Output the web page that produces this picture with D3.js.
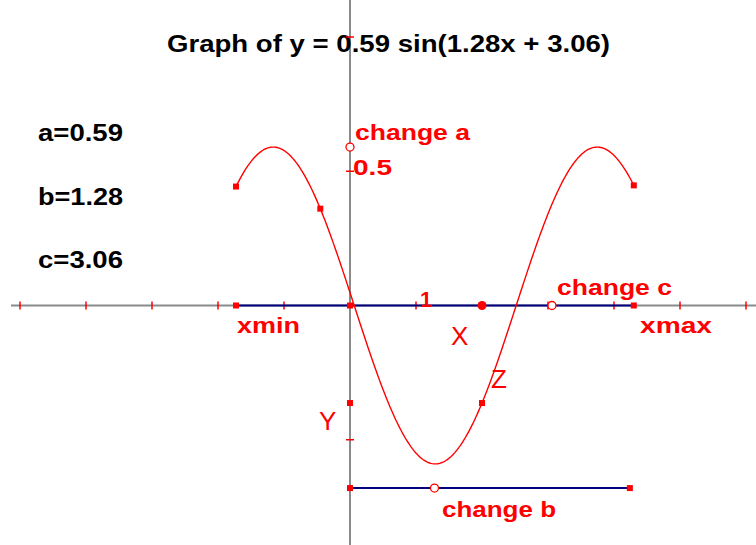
<!DOCTYPE html>
<html>
<head>
<meta charset="utf-8">
<script src="https://cdn.jsdelivr.net/npm/d3@7"></script>
<style>
  body { margin: 0; background: #fff; }
  svg { display: block; font-family: "Liberation Sans", Arial, sans-serif; }
</style>
</head>
<body>
<div id="wrapper"></div>
<script>
// parameters of y = a sin(bx + c)
const paramNames = ["a", "b", "c"]
const paramValues = [0.59, 1.28, 3.06]

// axis ticks (in graph units)
const xTicks = [-5, -4, -3, -2, -1, 1, 2, 3, 4, 5, 6]
const yTicks = [-0.5, 0.5, 1]

// plotted domain and marked points
const xDomain = [-1.727, 4.30]
const pointX = 2
const curveMarks = [-0.45]
const bLineEnd = 4.24
const bLineY = -0.68

function drawGraph() {
    const width = 756
    const height = 545
    const [a, b, c] = paramValues
    const f = x => a * Math.sin(b * x + c)

    const x = d3.scaleLinear().domain([0, 1]).range([350, 416])
    const y = d3.scaleLinear().domain([0, 1]).range([305.5, 37])

    const svg = d3.select("#wrapper").append("svg")
        .attr("width", width)
        .attr("height", height)

    const red = "#ff0000"
    const navy = "#000080"
    const gray = "#8a8a8a"

    // axes
    svg.append("line")
        .attr("x1", 11).attr("x2", width)
        .attr("y1", y(0)).attr("y2", y(0))
        .attr("stroke", gray).attr("stroke-width", 2)
    svg.append("line")
        .attr("x1", x(0)).attr("x2", x(0))
        .attr("y1", 0).attr("y2", height)
        .attr("stroke", gray).attr("stroke-width", 2)

    // title
    svg.append("text")
        .attr("x", 167).attr("y", 52)
        .attr("textLength", 443).attr("lengthAdjust", "spacingAndGlyphs")
        .attr("font-size", 24).attr("font-weight", "bold")
        .attr("fill", "#000")
        .text(`Graph of y = ${a.toFixed(2)} sin(${b.toFixed(2)}x + ${c.toFixed(2)})`)

    // tick marks
    svg.append("g").selectAll("line")
        .data(xTicks).enter().append("line")
        .attr("x1", d => x(d)).attr("x2", d => x(d))
        .attr("y1", y(0) - 4).attr("y2", y(0) + 4)
        .attr("stroke", red).attr("stroke-width", 1.5)
    svg.append("g").selectAll("line")
        .data(yTicks).enter().append("line")
        .attr("x1", x(0) - 4).attr("x2", x(0) + 4)
        .attr("y1", d => y(d)).attr("y2", d => y(d))
        .attr("stroke", red).attr("stroke-width", 1.5)

    // parameter readouts
    svg.append("g").selectAll("text")
        .data(paramNames).enter().append("text")
        .attr("x", 38)
        .attr("y", (d, i) => 141 + i * 63.5)
        .attr("textLength", 85).attr("lengthAdjust", "spacingAndGlyphs")
        .attr("font-size", 24).attr("font-weight", "bold")
        .attr("fill", "#000")
        .text((d, i) => `${d}=${paramValues[i].toFixed(2)}`)

    // blue segments
    svg.append("line")
        .attr("x1", x(xDomain[0])).attr("x2", x(xDomain[1]))
        .attr("y1", y(0)).attr("y2", y(0))
        .attr("stroke", navy).attr("stroke-width", 2)
    svg.append("line")
        .attr("x1", x(0)).attr("x2", x(bLineEnd))
        .attr("y1", y(bLineY)).attr("y2", y(bLineY))
        .attr("stroke", navy).attr("stroke-width", 2)

    // curve
    const samples = d3.range(0, 301).map(i => xDomain[0] + (xDomain[1] - xDomain[0]) * i / 300)
    const line = d3.line().x(d => x(d)).y(d => y(f(d)))
    svg.append("path")
        .datum(samples)
        .attr("d", line)
        .attr("fill", "none")
        .attr("stroke", red)
        .attr("stroke-width", 1.4)

    // square points
    const squares = [
        [xDomain[0], 0], [xDomain[1], 0], [0, 0],
        [xDomain[0], f(xDomain[0])], [xDomain[1], f(xDomain[1])],
        ...curveMarks.map(v => [v, f(v)]),
        [0, f(pointX)], [pointX, f(pointX)],
        [0, bLineY], [bLineEnd, bLineY]
    ]
    svg.append("g").selectAll("rect")
        .data(squares).enter().append("rect")
        .attr("x", d => x(d[0]) - 3)
        .attr("y", d => y(d[1]) - 3)
        .attr("width", 6).attr("height", 6)
        .attr("fill", red)

    // X point
    svg.append("circle")
        .attr("cx", x(pointX)).attr("cy", y(0)).attr("r", 4.5)
        .attr("fill", red)

    // control handles
    const handles = [[0, a], [c, 0], [b, bLineY]]
    svg.append("g").selectAll("circle")
        .data(handles).enter().append("circle")
        .attr("cx", d => x(d[0])).attr("cy", d => y(d[1])).attr("r", 4)
        .attr("fill", "#fff").attr("stroke", red).attr("stroke-width", 1.3)

    // red labels
    const boldLabels = [
        {t: "change a", x: 355, y: 140, w: 115},
        {t: "0.5", x: 353, y: 175, w: 39},
        {t: "1", x: 420, y: 307, w: 12},
        {t: "change c", x: 557, y: 295, w: 115},
        {t: "xmin", x: 237, y: 333, w: 63},
        {t: "xmax", x: 640, y: 333, w: 72},
        {t: "change b", x: 442, y: 517, w: 114}
    ]
    svg.append("g").selectAll("text")
        .data(boldLabels).enter().append("text")
        .attr("x", d => d.x).attr("y", d => d.y)
        .attr("textLength", d => d.w).attr("lengthAdjust", "spacingAndGlyphs")
        .attr("font-size", 22).attr("font-weight", "bold")
        .attr("fill", red)
        .text(d => d.t)

    const thinLabels = [
        {t: "X", x: 451, y: 345},
        {t: "Y", x: 319, y: 430},
        {t: "Z", x: 491, y: 388}
    ]
    svg.append("g").selectAll("text")
        .data(thinLabels).enter().append("text")
        .attr("x", d => d.x).attr("y", d => d.y)
        .attr("font-size", 26)
        .attr("fill", red)
        .text(d => d.t)
}
drawGraph()
</script>
</body>
</html>
